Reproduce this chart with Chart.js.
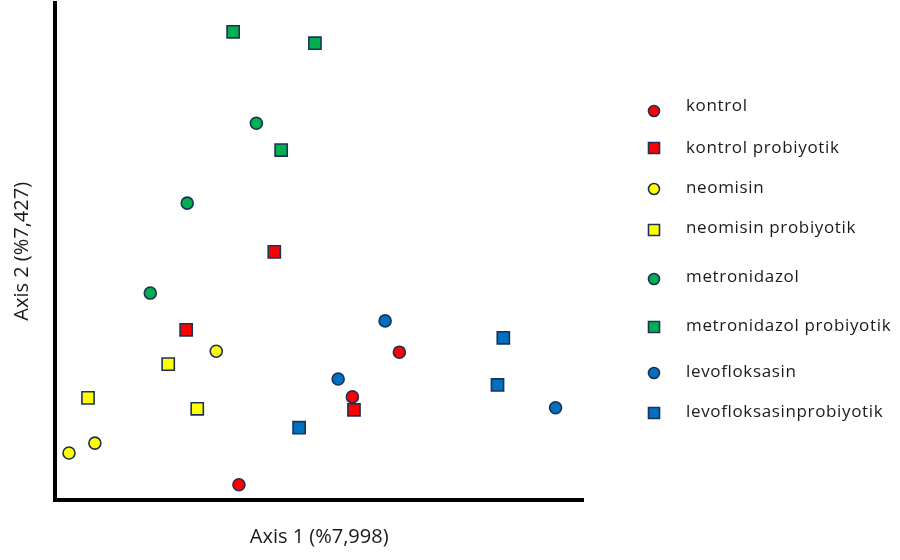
<!DOCTYPE html>
<html>
<head>
<meta charset="utf-8">
<script src="https://cdn.jsdelivr.net/npm/chart.js@4.4.1/dist/chart.umd.min.js"></script>
<style>
  html, body { margin: 0; padding: 0; background: #ffffff; }
  #wrap { width: 900px; height: 560px; position: relative; }
</style>
</head>
<body>
<div id="wrap"><canvas id="c" width="900" height="560"></canvas></div>
<script>
// ---- Data (axis units 0..100) ----
const seriesNames = [
  "kontrol", "kontrol probiyotik", "neomisin", "neomisin probiyotik",
  "metronidazol", "metronidazol probiyotik", "levofloksasin", "levofloksasinprobiyotik"
];
const kontrolX = [34.8, 56.3, 65.2];
const kontrolY = [3.0, 20.7, 29.7];
const kontrolProbX = [24.8, 41.5, 56.6];
const kontrolProbY = [34.2, 49.9, 18.1];
const neomisinX = [2.6, 7.5, 30.5];
const neomisinY = [9.4, 11.4, 29.9];
const neomisinProbX = [6.2, 21.4, 26.9];
const neomisinProbY = [20.5, 27.3, 18.3];
const metroX = [25.0, 38.1, 18.0];
const metroY = [59.7, 75.8, 41.6];
const metroProbX = [33.7, 49.2, 42.8];
const metroProbY = [94.2, 91.9, 70.4];
const levoX = [62.5, 53.6, 94.8];
const levoY = [36.0, 24.3, 18.5];
const levoProbX = [84.9, 83.8, 46.2];
const levoProbY = [32.6, 23.1, 14.5];

const xTitle = "Axis 1 (%7,998)";
const yTitle = "Axis 2 (%7,427)";

// ---- Styles ----
const RED = "#ff0000", YEL = "#ffff00", GRN = "#00b050", BLU = "#0070c0";
const EDGE = "#1f3057";
const FONT = "'Open Sans', 'Noto Sans', sans-serif";

function pts(xs, ys) { return xs.map((x, i) => ({ x: x, y: ys[i] })); }

const seriesX = [kontrolX, kontrolProbX, neomisinX, neomisinProbX, metroX, metroProbX, levoX, levoProbX];
const seriesY = [kontrolY, kontrolProbY, neomisinY, neomisinProbY, metroY, metroProbY, levoY, levoProbY];
const colors = [RED, RED, YEL, YEL, GRN, GRN, BLU, BLU];
const shapes = ["circle", "rect", "circle", "rect", "circle", "rect", "circle", "rect"];

const datasets = seriesNames.map((name, i) => ({
  label: name,
  data: pts(seriesX[i], seriesY[i]),
  pointStyle: shapes[i],
  pointRadius: shapes[i] === "circle" ? 6 : 8.6,
  pointHoverRadius: shapes[i] === "circle" ? 6 : 8.6,
  backgroundColor: colors[i],
  borderColor: EDGE,
  borderWidth: 1.6,
  showLine: false
}));

// legend row positions (layout only)
const legendRows = [
  { my: 111, ty: 106 }, { my: 148, ty: 148 }, { my: 189, ty: 188 }, { my: 230, ty: 228 },
  { my: 279, ty: 277 }, { my: 327, ty: 326 }, { my: 373, ty: 372 }, { my: 413, ty: 412 }
];

const legendPlugin = {
  id: "customLegend",
  afterDraw(chart) {
    const ctx = chart.ctx;
    ctx.save();
    chart.data.datasets.forEach((ds, i) => {
      const r = legendRows[i];
      const mx = 654;
      ctx.fillStyle = ds.backgroundColor;
      ctx.strokeStyle = ds.borderColor;
      ctx.lineWidth = 1.6;
      ctx.beginPath();
      if (ds.pointStyle === "circle") {
        ctx.arc(mx, r.my, 5.5, 0, Math.PI * 2);
      } else {
        ctx.rect(mx - 5.5, r.my - 5.5, 11, 11);
      }
      ctx.fill();
      ctx.stroke();
      ctx.fillStyle = "#1a1a1a";
      ctx.font = "17px " + FONT;
      try { ctx.letterSpacing = "0.65px"; } catch (e) {}
      ctx.textAlign = "left";
      ctx.textBaseline = "middle";
      ctx.fillText(ds.label, 686, r.ty);
    });
    ctx.restore();
  }
};

new Chart(document.getElementById("c"), {
  type: "scatter",
  data: { datasets: datasets },
  options: {
    responsive: false,
    animation: false,
    devicePixelRatio: 1,
    layout: { autoPadding: false, padding: { top: 3, right: 317, left: 0, bottom: 0 } },
    plugins: { legend: { display: false }, tooltip: { enabled: false } },
    scales: {
      x: {
        type: "linear", min: 0, max: 100,
        grid: { display: false, drawTicks: false },
        ticks: { display: false },
        border: { display: true, width: 4, color: "#000000" },
        title: {
          display: true, text: xTitle, color: "#1a1a1a",
          font: { family: FONT, size: 20, lineHeight: 1.2 },
          padding: { top: 25.8, bottom: 10.5 }
        }
      },
      y: {
        type: "linear", min: 0, max: 100,
        grid: { display: false, drawTicks: false },
        ticks: { display: false },
        border: { display: true, width: 4, color: "#000000" },
        title: {
          display: true, text: yTitle, color: "#1a1a1a",
          font: { family: FONT, size: 20, lineHeight: 1.2 },
          padding: { top: 10.5, bottom: 20.8 }
        }
      }
    }
  },
  plugins: [legendPlugin]
});
</script>
</body>
</html>
